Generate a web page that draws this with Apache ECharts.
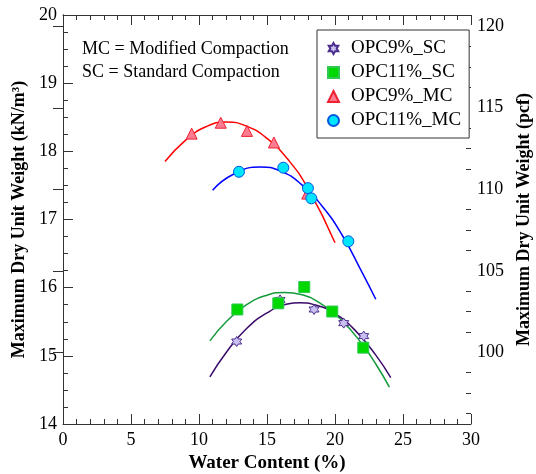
<!DOCTYPE html>
<html><head><meta charset="utf-8">
<script src="https://cdn.jsdelivr.net/npm/echarts@6/dist/echarts.min.js"></script>
<style>html,body{margin:0;padding:0;background:#fff}#c{width:536px;height:474px}</style>
</head><body><div id="c"></div>
<script>
// measured points
const opc9SC_x  = [12.77, 15.96, 18.46, 20.64, 22.11];
const opc9SC_y  = [15.21, 15.82, 15.68, 15.48, 15.29];
const opc11SC_x = [12.82, 15.83, 17.74, 19.80, 22.08];
const opc11SC_y = [15.68, 15.77, 16.01, 15.65, 15.12];
const opc9MC_x  = [9.46, 11.60, 13.53, 15.51, 17.96];
const opc9MC_y  = [18.26, 18.42, 18.30, 18.13, 17.38];
const opc11MC_x = [12.94, 16.20, 18.01, 18.26, 20.98];
const opc11MC_y = [17.70, 17.76, 17.46, 17.31, 16.68];

// fitted curves
const fit9SC_x  = [10.8, 12.0, 13.5, 15.0, 16.5, 17.4, 18.5, 20.0, 21.5, 23.0, 24.1];
const fit9SC_y  = [14.69, 15.05, 15.40, 15.63, 15.76, 15.78, 15.75, 15.62, 15.37, 15.01, 14.68];
const fit11SC_x = [10.8, 12.0, 13.5, 15.0, 16.3, 17.5, 19.0, 20.5, 22.0, 23.0, 24.0];
const fit11SC_y = [15.22, 15.50, 15.75, 15.89, 15.93, 15.90, 15.76, 15.52, 15.17, 14.88, 14.54];
const fit9MC_x  = [7.5, 9.0, 10.5, 12.0, 13.5, 15.0, 16.5, 18.0, 20.0];
const fit9MC_y  = [17.85, 18.16, 18.36, 18.43, 18.37, 18.19, 17.89, 17.46, 16.66];
const fit11MC_x = [11.0, 12.5, 14.5, 16.0, 17.5, 19.0, 20.5, 22.0, 23.0];
const fit11MC_y = [17.43, 17.66, 17.77, 17.71, 17.52, 17.21, 16.78, 16.22, 15.83];

// axis ticks
const pcfMajor = [100, 105, 110, 115, 120];
const pcfMinor = [96.25, 97.5, 98.75, 101.25, 102.5, 103.75, 106.25, 107.5, 108.75, 111.25, 112.5, 113.75, 116.25, 117.5, 118.75];

const names = ['OPC9%_SC', 'OPC11%_SC', 'OPC9%_MC', 'OPC11%_MC'];
const notes = ['MC = Modified Compaction', 'SC = Standard Compaction'];

const zip = (a, b) => a.map((v, i) => [v, b[i]]);
const serif = 'Liberation Serif, Times New Roman, serif';
const axisC = '#333';
const star = 'path://M10 0 L12.89 5 L18.66 5 L15.77 10 L18.66 15 L12.89 15 L10 20 L7.11 15 L1.34 15 L4.23 10 L1.34 5 L7.11 5 Z';

const chart = echarts.init(document.getElementById('c'), null, {renderer: 'canvas'});
const baseX = {
  type: 'value', min: 0, max: 30, interval: 5,
  axisLine: {show: true, lineStyle: {color: axisC, width: 1}},
  axisTick: {show: true, inside: true, length: 10, lineStyle: {color: axisC}},
  minorTick: {show: true, splitNumber: 5, length: 5, lineStyle: {color: axisC}},
  splitLine: {show: false}, minorSplitLine: {show: false}
};
function line(name, xs, ys, color) {
  return {name: name, type: 'line', data: zip(xs, ys), smooth: true, showSymbol: false, symbol: 'none',
    lineStyle: {color: color, width: 1.5}, itemStyle: {color: color}, z: 2, silent: true, animation: false};
}
function pts(name, xs, ys, symbol, size, fill, border) {
  return {name: name, type: 'scatter', data: zip(xs, ys), symbol: symbol, symbolSize: size,
    itemStyle: {color: fill, borderColor: border, borderWidth: 1, opacity: 1}, z: 5, animation: false};
}
const nameStyle = {fontFamily: serif, fontSize: 18, fontWeight: 'bold', color: '#000'};
chart.setOption({
  animation: false,
  grid: {left: 63, right: 65, top: 15, bottom: 50, containLabel: false, outerBoundsMode: 'none'},
  xAxis: [
    Object.assign({}, baseX, {
      position: 'bottom',
      axisLabel: {fontFamily: serif, fontSize: 18, color: '#000', margin: 7},
      name: 'Water Content (%)', nameLocation: 'middle', nameGap: 29,
      nameTextStyle: Object.assign({}, nameStyle, {fontSize: 19})
    }),
    Object.assign({}, baseX, {position: 'top', axisLabel: {show: false}})
  ],
  yAxis: [
    {
      type: 'value', min: 14, max: 20, interval: 1, position: 'left',
      axisLine: {show: true, lineStyle: {color: axisC}},
      axisTick: {show: true, inside: true, length: 10, lineStyle: {color: axisC}},
      minorTick: {show: true, splitNumber: 4, length: 5, lineStyle: {color: axisC}},
      splitLine: {show: false},
      axisLabel: {fontFamily: serif, fontSize: 18, color: '#000', margin: 6},
      name: 'Maximum Dry Unit Weight (kN/m³)', nameLocation: 'middle', nameGap: 31, nameRotate: 90,
      nameTextStyle: nameStyle
    },
    {
      type: 'value', min: 95.6, max: 120.69, position: 'right',
      axisLine: {show: true, lineStyle: {color: axisC}},
      axisTick: {show: true, inside: true, length: 10, customValues: pcfMajor, lineStyle: {color: axisC}},
      axisLabel: {customValues: pcfMajor, fontFamily: serif, fontSize: 18, color: '#000', margin: 6},
      splitLine: {show: false},
      name: 'Maximum Dry Unit Weight (pcf)', nameLocation: 'middle', nameGap: 42, nameRotate: 90,
      nameTextStyle: nameStyle
    },
    {
      type: 'value', min: 95.6, max: 120.69, position: 'right',
      axisLine: {show: false},
      axisTick: {show: true, inside: true, length: 5, customValues: pcfMinor, lineStyle: {color: axisC}},
      axisLabel: {show: false},
      splitLine: {show: false}
    }
  ],
  legend: {
    data: names, orient: 'vertical', left: 317, top: 30,
    itemWidth: 11, itemHeight: 11, itemGap: 5,
    padding: [9, 8, 8, 10],
    borderColor: axisC, borderWidth: 1, backgroundColor: '#fff',
    textStyle: {fontFamily: serif, fontSize: 19, color: '#000', padding: [0, 0, 0, 7]}
  },
  graphic: [
    {type: 'text', left: 82, top: 40, style: {text: notes[0], font: '18px ' + serif, fill: '#000'}},
    {type: 'text', left: 82, top: 63, style: {text: notes[1], font: '18px ' + serif, fill: '#000'}}
  ],
  series: [
    line('fit9MC', fit9MC_x, fit9MC_y, '#ff0000'),
    line('fit11MC', fit11MC_x, fit11MC_y, '#0000ff'),
    line('fit11SC', fit11SC_x, fit11SC_y, '#159a3c'),
    line('fit9SC', fit9SC_x, fit9SC_y, '#3a0a6a'),
    pts(names[0], opc9SC_x, opc9SC_y, star, 10, '#c9bff0', '#4a2c8c'),
    pts(names[1], opc11SC_x, opc11SC_y, 'rect', 11, '#00d800', '#33c855'),
    pts(names[2], opc9MC_x, opc9MC_y, 'triangle', 11, '#ff7b8f', '#ee2233'),
    pts(names[3], opc11MC_x, opc11MC_y, 'circle', 11, '#00e5ff', '#0055dd')
  ]
});
</script></body></html>
